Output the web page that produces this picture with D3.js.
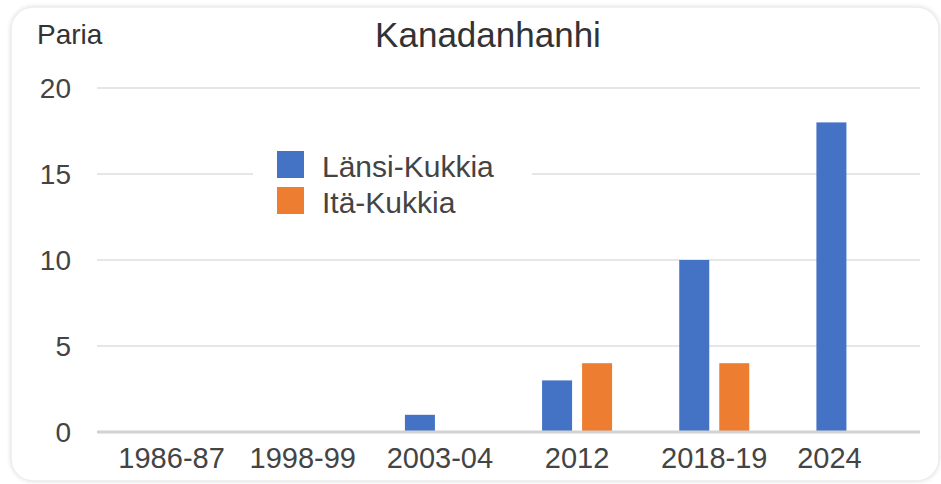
<!DOCTYPE html>
<html>
<head>
<meta charset="utf-8">
<script src="https://cdn.jsdelivr.net/npm/d3@7"></script>
<style>
  html, body { margin: 0; padding: 0; background: #fff; }
  svg { display: block; font-family: "Liberation Sans", Arial, sans-serif; }
</style>
</head>
<body>
<div id="chart"></div>
<script>
const categories = ["1986-87", "1998-99", "2003-04", "2012", "2018-19", "2024"];
const seriesNames = ["Länsi-Kukkia", "Itä-Kukkia"];
const lansiValues = [0, 0, 1, 3, 10, 18];
const itaValues = [0, 0, 0, 4, 4, 0];
const yTicks = [0, 5, 10, 15, 20];
const colors = ["#4472c4", "#ed7d31"];

const width = 941;
const height = 484;
const margin = { top: 88, right: 21, bottom: 52, left: 97 };

const svg = d3.select("#chart")
  .append("svg")
  .attr("width", width)
  .attr("height", height);

// soft card background
const defs = svg.append("defs");
const blur = defs.append("filter").attr("id", "shadow").attr("x", "-5%").attr("y", "-5%").attr("width", "110%").attr("height", "110%");
blur.append("feGaussianBlur").attr("in", "SourceAlpha").attr("stdDeviation", 2);
blur.append("feComponentTransfer").append("feFuncA").attr("type", "linear").attr("slope", 0.12);
const merge = blur.append("feMerge");
merge.append("feMergeNode");
merge.append("feMergeNode").attr("in", "SourceGraphic");

svg.append("rect")
  .attr("x", 11).attr("y", 7)
  .attr("width", 928).attr("height", 474)
  .attr("rx", 22)
  .attr("fill", "#fff")
  .attr("stroke", "#ececec")
  .attr("stroke-width", 1.5)
  .attr("filter", "url(#shadow)");

const x0 = d3.scaleBand()
  .domain(categories)
  .range([margin.left, width - margin.right]);

const x1 = d3.scaleBand()
  .domain(seriesNames)
  .range([0, 70])
  .paddingInner(0.25);

const y = d3.scaleLinear()
  .domain([0, 20])
  .range([height - margin.bottom, margin.top]);

// gridlines
svg.append("g")
  .selectAll("line")
  .data(yTicks.filter(d => d !== 0))
  .join("line")
  .attr("x1", margin.left)
  .attr("x2", width - margin.right)
  .attr("y1", d => y(d))
  .attr("y2", d => y(d))
  .attr("stroke", "#e6e6e6")
  .attr("stroke-width", 2);

// y labels
svg.append("g")
  .selectAll("text")
  .data(yTicks)
  .join("text")
  .attr("x", 71)
  .attr("y", d => y(d) + 10)
  .attr("text-anchor", "end")
  .attr("font-size", 28)
  .attr("fill", "#444")
  .text(d => d);

// bars
const rows = categories.map((c, i) => ({ cat: c, vals: [lansiValues[i], itaValues[i]] }));

const groups = svg.append("g")
  .selectAll("g")
  .data(rows)
  .join("g")
  .attr("transform", d => `translate(${x0(d.cat) + x0.bandwidth() / 2 - 35},0)`);

groups.selectAll("rect")
  .data(d => d.vals.map((v, k) => ({ name: seriesNames[k], value: v, k })))
  .join("rect")
  .filter(d => d.value > 0)
  .attr("x", d => x1(d.name))
  .attr("width", x1.bandwidth())
  .attr("y", d => y(d.value))
  .attr("height", d => y(0) - y(d.value))
  .attr("fill", d => colors[d.k]);

// zero baseline
svg.append("line")
  .attr("x1", margin.left)
  .attr("x2", width - margin.right)
  .attr("y1", y(0))
  .attr("y2", y(0))
  .attr("stroke", "#d2d2d2")
  .attr("stroke-width", 3);

// x axis labels
const xAxis = d3.axisBottom(x0).tickSize(0).tickPadding(0);
const xg = svg.append("g")
  .attr("transform", `translate(0,${y(0)})`)
  .call(xAxis);
xg.select(".domain").remove();
xg.selectAll("text")
  .attr("y", 36)
  .attr("dy", 0)
  .attr("font-size", 29)
  .attr("font-family", "Liberation Sans, Arial, sans-serif")
  .attr("fill", "#444")
  .attr("dx", (d, i) => i === 0 ? 6 : i === categories.length - 1 ? -22 : 0);

// legend
const legend = svg.append("g").attr("transform", "translate(277,151)");
legend.append("rect")
  .attr("x", -24).attr("y", -10)
  .attr("width", 279).attr("height", 80)
  .attr("fill", "#fff");
const items = legend.selectAll("g.item")
  .data(seriesNames)
  .join("g")
  .attr("class", "item")
  .attr("transform", (d, i) => `translate(0,${i * 36})`);
items.append("rect")
  .attr("width", 27).attr("height", 27)
  .attr("fill", (d, i) => colors[i]);
items.append("text")
  .attr("x", 45)
  .attr("y", 26)
  .attr("font-size", 30)
  .attr("fill", "#444")
  .text(d => d);

// titles
svg.append("text")
  .attr("x", 37)
  .attr("y", 44)
  .attr("font-size", 28)
  .attr("fill", "#333")
  .text("Paria");

svg.append("text")
  .attr("x", 488)
  .attr("y", 47)
  .attr("text-anchor", "middle")
  .attr("font-size", 35)
  .attr("fill", "#333")
  .text("Kanadanhanhi");
</script>
</body>
</html>
